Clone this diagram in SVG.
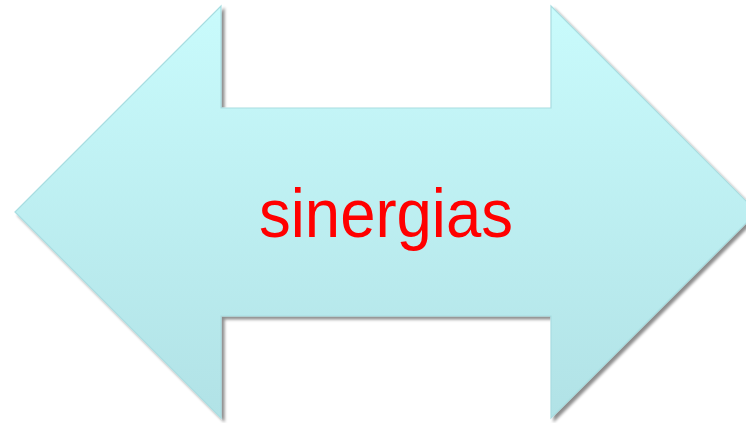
<svg xmlns="http://www.w3.org/2000/svg" width="746" height="423" viewBox="0 0 746 423">
  <defs>
    <linearGradient id="fillGrad" x1="0" y1="0" x2="0" y2="1">
      <stop offset="0" stop-color="#c9fbfc"/>
      <stop offset="1" stop-color="#b1e2e6"/>
    </linearGradient>
    <filter id="shadow" x="-10%" y="-10%" width="120%" height="120%">
      <feGaussianBlur in="SourceAlpha" stdDeviation="1.5" result="b"/>
      <feOffset in="b" dx="3" dy="3" result="o"/>
      <feComponentTransfer in="o" result="s">
        <feFuncA type="linear" slope="0.45"/>
      </feComponentTransfer>
      <feMerge>
        <feMergeNode in="s"/>
        <feMergeNode in="SourceGraphic"/>
      </feMerge>
    </filter>
    <style>
      .arrow { fill: url(#fillGrad); stroke: #a9dde1; stroke-width: 1.2; filter: url(#shadow); }
      .label { font-family: "Liberation Sans", Arial, sans-serif; font-size: 68px; fill: #ff0000; }
    </style>
  </defs>
  <rect width="746" height="423" fill="#ffffff"/>
  <g id="double-arrow">
    <path class="arrow" d="M15,212 L221,6 L221,108 L551,108 L551,6 L757,212 L551,418 L551,316 L221,316 L221,418 Z"/>
    <text class="label" x="386" y="237" text-anchor="middle" textLength="254" lengthAdjust="spacingAndGlyphs">sinergias</text>
  </g>
  <g id="connectors"/>
</svg>
